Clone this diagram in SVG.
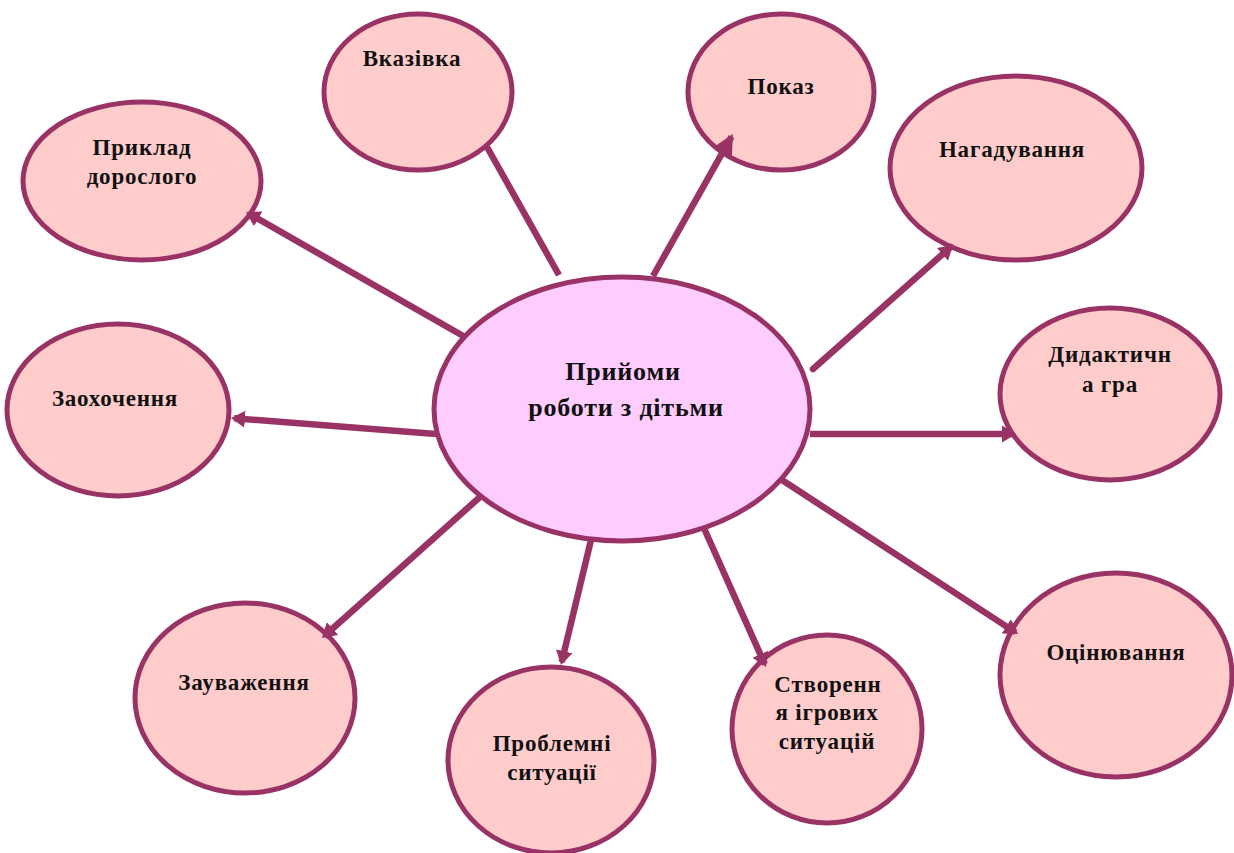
<svg xmlns="http://www.w3.org/2000/svg" width="1234" height="853" viewBox="0 0 1234 853">
<style>
.n{fill:#ffcccc;stroke:#993366;stroke-width:5}
.c{fill:#ffccff;stroke:#993366;stroke-width:5}
.l{fill:none;stroke:#993366;stroke-width:6.5}
.a{marker-end:url(#arr)}
.b{marker-end:url(#arrb)}
text{font-family:"Liberation Serif","DejaVu Serif",serif;font-weight:bold;font-size:23px;letter-spacing:.8px;fill:#111;text-anchor:middle}
.t{font-size:26px}
</style>
<defs><marker id="arr" markerUnits="userSpaceOnUse" markerWidth="16" markerHeight="18" refX="11" refY="9" orient="auto"><path d="M0 0.5L14 9L0 17.5Z" fill="#993366"/></marker>
<marker id="arrb" markerUnits="userSpaceOnUse" markerWidth="22" markerHeight="22" refX="17" refY="11" orient="auto"><path d="M0 1L20 11L0 21Z" fill="#993366"/></marker></defs>
<rect width="1234" height="853" fill="#fff"/>
<g id="center"><ellipse class="c" cx="622" cy="409" rx="188" ry="132"/><text class="t" x="623" y="380">Прийоми</text><text class="t" x="626" y="416">роботи з дітьми</text></g>
<g id="n1"><ellipse class="n" cx="418" cy="92" rx="94" ry="78"/><text x="412" y="66">Вказівка</text></g>
<g id="n2"><ellipse class="n" cx="781" cy="92" rx="93" ry="78"/><text x="781" y="94">Показ</text></g>
<g id="n3"><ellipse class="n" cx="1016" cy="168" rx="126" ry="92"/><text x="1012" y="157">Нагадування</text></g>
<g id="n4"><ellipse class="n" cx="1110" cy="394" rx="110" ry="86"/><text x="1110" y="362">Дидактичн</text><text x="1110" y="392">а гра</text></g>
<g id="n5"><ellipse class="n" cx="1116" cy="675" rx="116" ry="102"/><text x="1116" y="660">Оцінювання</text></g>
<g id="n6"><ellipse class="n" cx="827" cy="729" rx="95" ry="94"/><text x="828" y="692">Створенн</text><text x="827" y="720">я ігрових</text><text x="827" y="749">ситуацій</text></g>
<g id="n7"><ellipse class="n" cx="551" cy="760" rx="103" ry="93"/><text x="552" y="751">Проблемні</text><text x="552" y="780">ситуації</text></g>
<g id="n8"><ellipse class="n" cx="245" cy="698" rx="110" ry="95"/><text x="244" y="690">Зауваження</text></g>
<g id="n9"><ellipse class="n" cx="118" cy="410" rx="111" ry="86"/><text x="115" y="406">Заохочення</text></g>
<g id="n10"><ellipse class="n" cx="142" cy="181" rx="119" ry="79"/><text x="142" y="155">Приклад</text><text x="142" y="184">дорослого</text></g>
<g id="connectors">
<line class="l" x1="559" y1="275" x2="487" y2="147"/>
<line class="l b" x1="653" y1="276" x2="731.5" y2="136.6"/>
<line class="l a" stroke-linecap="round" x1="813" y1="369" x2="950.7" y2="247"/>
<line class="l a" x1="810" y1="434" x2="1013" y2="434"/>
<line class="l a" x1="782" y1="480" x2="1015.5" y2="632.4"/>
<line class="l a" x1="703" y1="526" x2="764.8" y2="664.3"/>
<line class="l a" x1="591" y1="540" x2="561.7" y2="662"/>
<line class="l a" x1="480" y1="497" x2="324.3" y2="636"/>
<line class="l a" x1="436" y1="434" x2="234" y2="418.3"/>
<line class="l a" x1="465" y1="337" x2="248.6" y2="213.5"/>
</g>
</svg>
